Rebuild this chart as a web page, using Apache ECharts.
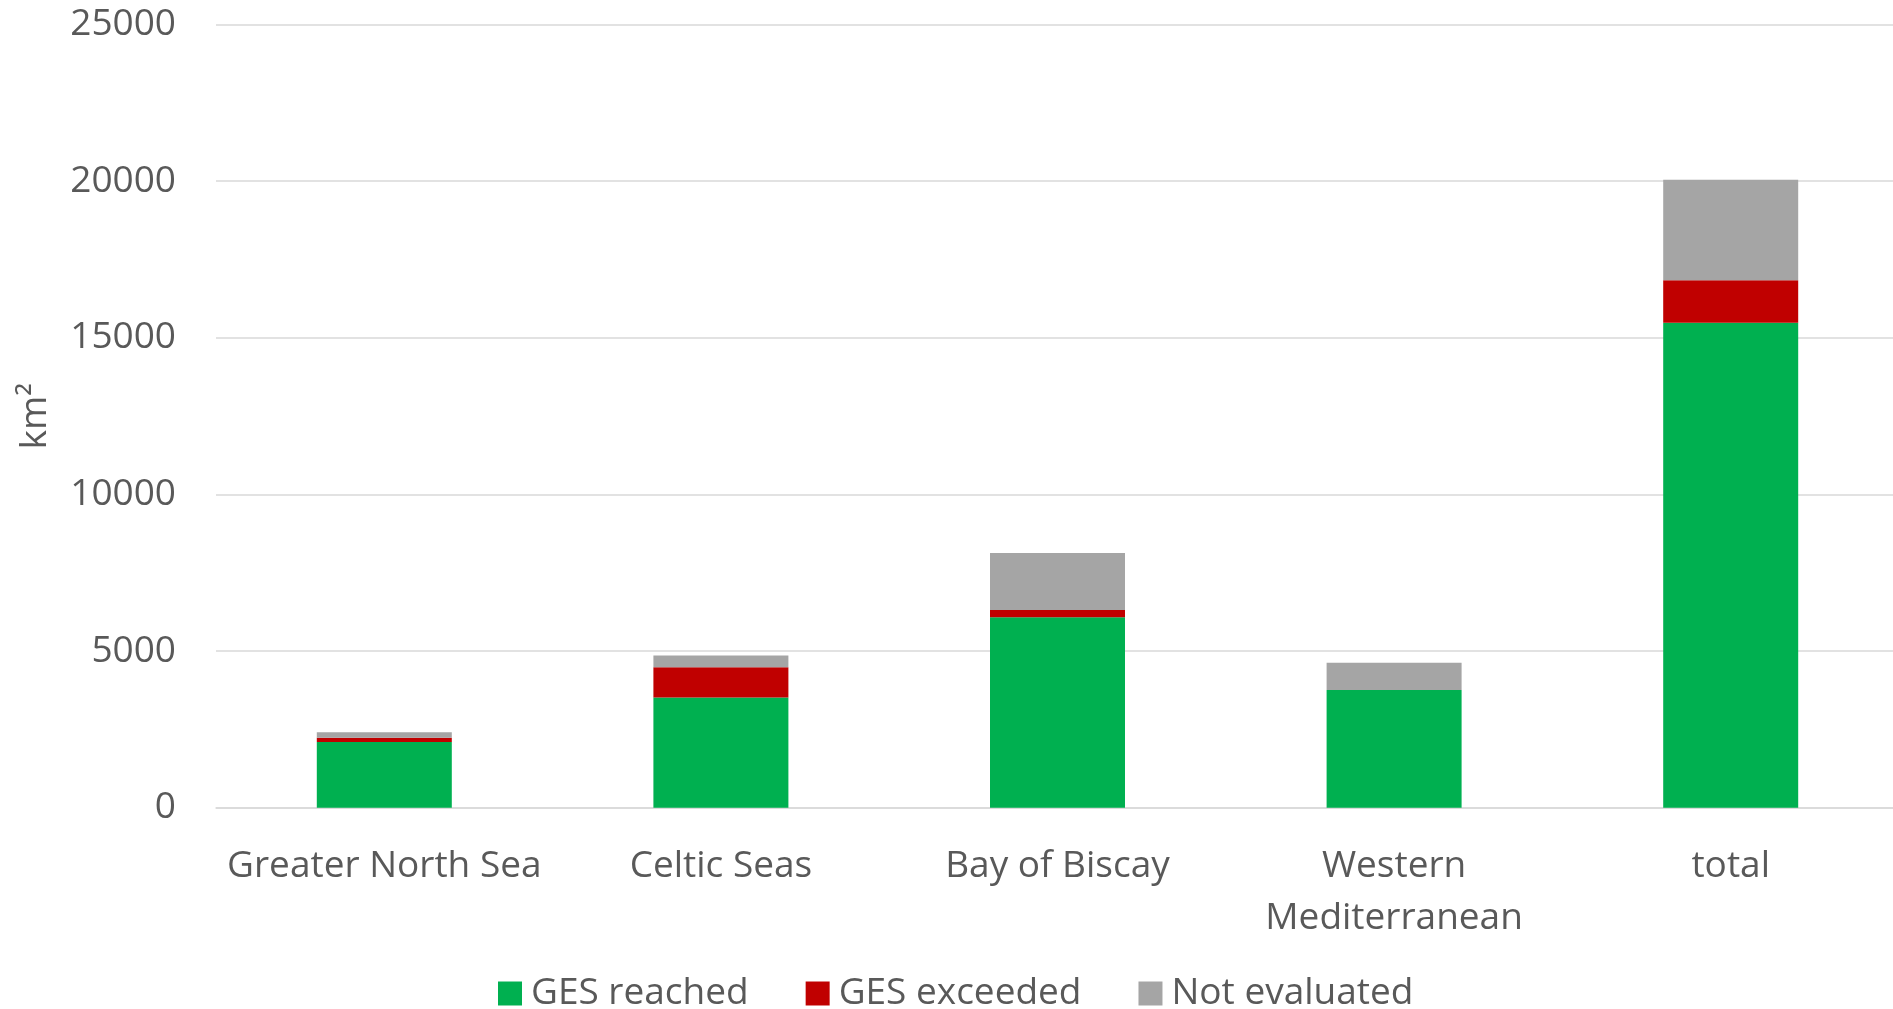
<!DOCTYPE html>
<html style="height: 100%">
<head>
    <meta charset="UTF-8">
    <title>GES area</title>
    <script type="text/javascript" src="https://cdn.jsdelivr.net/npm/echarts@6/dist/echarts.min.js"></script>
</head>
<body style="height: 100%; margin: 0; background: #fff; overflow: hidden">
    <div id="container" style="width: 1899px; height: 1009px"></div>
<script>
    var regions = ['Greater North Sea', 'Celtic Seas', 'Bay of Biscay', 'Western\nMediterranean', 'total'];
    var gesReached = [2100, 3520, 6080, 3760, 15480];
    var gesExceeded = [130, 960, 230, 0, 1355];
    var notEvaluated = [180, 380, 1820, 870, 3210];

    var textColor = '#595959';
    var font = '"Open Sans", sans-serif';

    var myChart = echarts.init(document.getElementById('container'));

    function barSeries(name, data, color) {
        return {
            name: name,
            type: 'bar',
            stack: 'area',
            barWidth: 135,
            data: data,
            itemStyle: { color: color }
        };
    }

    var option = {
        animation: false,
        textStyle: { fontFamily: font },
        grid: {
            left: 216,
            right: 0,
            top: 24.5,
            bottom: 201.3,
            containLabel: false
        },
        legend: {
            left: 493,
            top: 970,
            itemWidth: 24,
            itemHeight: 24,
            itemGap: 57,
            icon: 'rect',
            textStyle: { color: textColor, fontSize: 37, fontFamily: font, padding: [0, 0, 0, 4] },
            data: ['GES reached', 'GES exceeded', 'Not evaluated']
        },
        xAxis: {
            type: 'category',
            data: regions,
            axisLine: { lineStyle: { color: '#d9d9d9', width: 1.5 } },
            axisTick: { show: false },
            axisLabel: {
                color: textColor,
                fontSize: 37,
                fontFamily: font,
                lineHeight: 52,
                margin: 33,
                interval: 0
            }
        },
        yAxis: {
            type: 'value',
            min: 0,
            max: 25000,
            interval: 5000,
            name: 'km²',
            nameLocation: 'middle',
            nameGap: 162,
            nameTextStyle: { color: textColor, fontSize: 37, fontFamily: font },
            axisLine: { show: false },
            axisTick: { show: false },
            splitLine: { lineStyle: { color: '#d9d9d9', width: 1.5 } },
            axisLabel: {
                color: textColor,
                fontSize: 37,
                fontFamily: font,
                margin: 40,
                formatter: function (v) { return String(v); }
            }
        },
        series: [
            barSeries('GES reached', gesReached, '#00b050'),
            barSeries('GES exceeded', gesExceeded, '#c00000'),
            barSeries('Not evaluated', notEvaluated, '#a5a5a5')
        ]
    };
    myChart.setOption(option);
</script>
</body>
</html>
